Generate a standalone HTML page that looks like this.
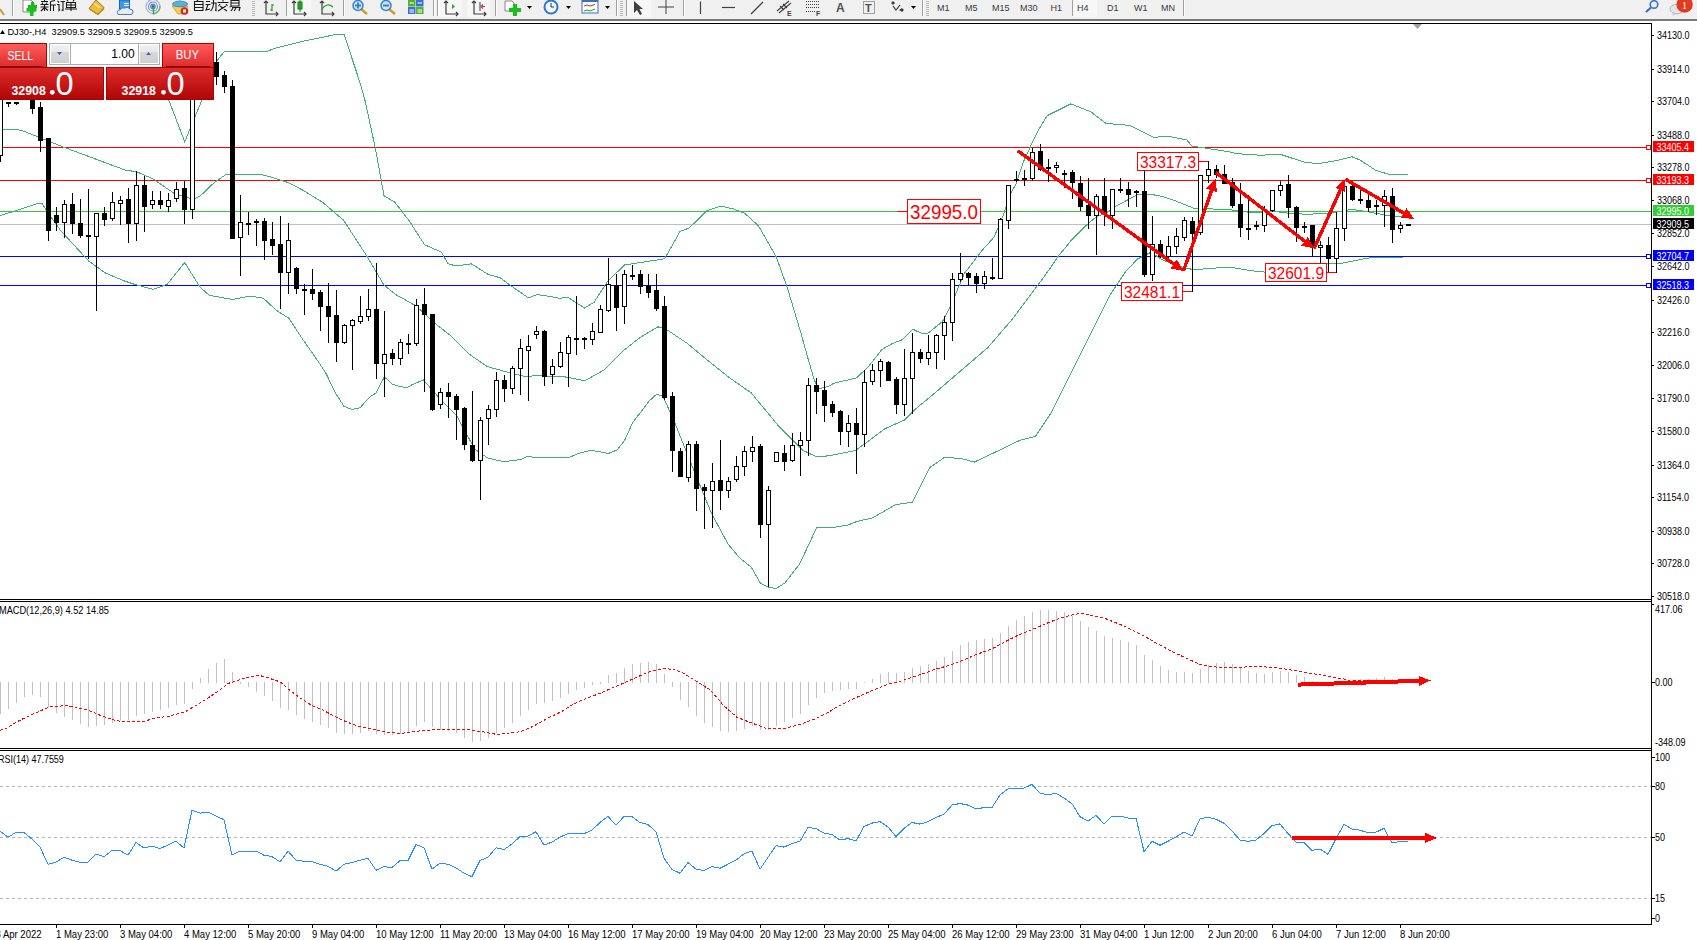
<!DOCTYPE html>
<html><head><meta charset="utf-8"><title>DJ30 H4</title>
<style>
html,body{margin:0;padding:0;background:#fff;}
body{width:1697px;height:940px;overflow:hidden;position:relative;font-family:"Liberation Sans", sans-serif;}
</style></head><body>
<svg width="1697" height="940" style="position:absolute;left:0;top:0"><defs><clipPath id="cm"><rect x="0" y="24" width="1651" height="575"/></clipPath><clipPath id="cmacd"><rect x="0" y="602" width="1651" height="146"/></clipPath><clipPath id="crsi"><rect x="0" y="751" width="1651" height="173"/></clipPath></defs><g shape-rendering="crispEdges" fill="#000"><rect x="0" y="23" width="1652" height="1"/><rect x="1651" y="23" width="1" height="902"/><rect x="0" y="599" width="1652" height="1"/><rect x="0" y="601" width="1652" height="1"/><rect x="0" y="748" width="1652" height="1"/><rect x="0" y="750" width="1652" height="1"/><rect x="0" y="924" width="1652" height="1"/></g><g clip-path="url(#cm)"><g shape-rendering="crispEdges"><rect x="0" y="147" width="1651" height="1" fill="#ff0000"/><rect x="0" y="180" width="1651" height="1" fill="#ff0000"/><rect x="0" y="211" width="1651" height="1" fill="#32cd32"/><rect x="0" y="224" width="1651" height="1" fill="#c0c0c0"/><rect x="0" y="256" width="1651" height="1" fill="#0000ff"/><rect x="0" y="285" width="1651" height="1" fill="#0000ff"/><rect x="1646" y="145" width="5" height="5" fill="#ff0000"/><rect x="1647" y="146" width="3" height="3" fill="#fff"/><rect x="1646" y="178" width="5" height="5" fill="#ff0000"/><rect x="1647" y="179" width="3" height="3" fill="#fff"/><rect x="1646" y="254" width="5" height="5" fill="#0000ff"/><rect x="1647" y="255" width="3" height="3" fill="#fff"/><rect x="1646" y="283" width="5" height="5" fill="#0000ff"/><rect x="1647" y="284" width="3" height="3" fill="#fff"/></g><polyline points="0.0,50.0 150.0,58.0 169.5,102.0 184.7,141.8 201.1,102.0 214.0,70.0 216.4,61.4 224.4,51.4 267.3,51.4 273.6,48.6 303.4,41.2 337.3,34.2 344.0,34.2 360.0,82.6 364.9,100.0 375.5,148.9 384.0,195.7 394.7,202.1 409.6,221.3 424.5,244.7 441.5,252.1 447.9,263.8 456.4,266.0 471.3,263.8 488.3,274.5 500.0,277.7 510.3,285.3 519.5,291.7 528.7,298.0 536.7,294.6 550.1,296.5 559.7,298.4 567.4,297.1 584.6,308.0 594.2,302.2 607.6,281.2 624.8,264.9 640.0,262.6 664.6,258.8 680.2,231.3 689.2,228.0 707.0,210.6 720.4,206.1 733.9,209.0 745.0,213.5 758.4,225.8 776.3,257.0 787.5,288.3 800.9,333.0 808.7,360.9 814.3,380.0 818.8,388.9 827.7,386.6 834.0,383.2 856.3,378.0 868.3,366.8 881.7,349.7 892.1,343.7 902.8,339.5 912.8,329.2 920.9,333.1 928.1,333.1 942.6,321.4 949.8,307.8 964.3,273.5 982.4,250.0 994.0,237.2 1002.9,216.3 1010.3,194.0 1015.7,184.5 1023.7,161.3 1031.2,144.9 1038.6,130.0 1047.2,115.6 1070.9,103.8 1090.6,111.7 1106.3,123.5 1129.9,125.4 1153.5,137.2 1169.3,136.5 1186.8,140.0 1191.9,146.0 1230.0,151.9 1236.0,153.6 1259.9,155.2 1280.6,154.4 1304.6,162.3 1318.9,163.6 1336.0,160.7 1351.9,156.8 1359.9,159.9 1375.8,170.3 1388.6,174.3 1407.8,174.3" fill="none" stroke="#3cb371" stroke-width="1" shape-rendering="crispEdges"/><polyline points="0.0,129.0 21.1,130.1 38.7,137.2 60.9,146.1 125.0,170.0 136.7,171.8 153.1,178.9 174.2,193.4 192.9,199.2 200.0,196.2 214.0,182.8 225.7,174.6 232.8,175.1 255.0,174.2 260.6,174.5 273.4,177.7 288.3,182.6 303.2,190.4 322.3,202.1 343.6,220.2 367.0,256.4 384.0,285.1 395.3,294.3 415.8,305.8 433.7,322.4 451.5,336.4 469.4,354.3 487.3,366.6 507.7,372.2 527.2,377.0 536.7,375.0 548.2,376.4 565.5,377.0 584.6,380.8 603.8,370.2 622.9,351.1 640.0,337.5 657.9,326.8 666.8,329.7 686.9,343.1 707.0,359.8 729.4,377.7 751.2,392.9 767.6,412.7 778.9,426.4 793.8,441.3 802.7,450.2 816.8,457.0 829.6,455.7 855.1,450.6 868.3,441.3 884.9,428.7 904.7,419.9 915.5,409.0 937.2,391.0 962.5,369.3 987.8,347.6 1012.0,319.6 1039.4,282.9 1049.0,270.0 1058.0,256.5 1071.4,240.2 1086.3,225.3 1096.7,216.4 1105.6,213.4 1115.3,206.4 1137.4,194.8 1149.3,194.1 1161.3,196.2 1176.6,201.3 1193.6,208.1 1230.0,209.8 1251.9,212.6 1275.8,211.5 1291.8,213.7 1307.8,214.2 1328.0,213.4 1351.9,209.4 1367.9,211.8 1391.8,216.3 1404.6,216.6" fill="none" stroke="#3cb371" stroke-width="1" shape-rendering="crispEdges"/><polyline points="0.0,215.6 21.1,209.1 38.7,203.2 42.2,203.9 49.2,214.5 60.9,230.9 89.0,261.3 105.4,273.0 125.0,281.2 134.4,284.3 153.1,289.4 167.2,284.3 184.7,262.5 200.0,287.1 209.3,295.3 232.8,299.5 250.0,296.0 263.4,298.3 276.8,310.6 289.0,318.4 301.4,337.4 320.0,364.1 326.0,373.4 334.9,392.0 343.8,406.2 352.0,409.5 360.2,407.7 364.7,402.4 370.6,396.5 375.8,393.1 384.4,376.8 392.2,384.2 399.7,386.4 407.1,387.6 412.3,384.6 423.4,379.9 441.3,400.3 456.6,415.6 474.5,448.8 487.3,457.8 500.0,460.9 506.4,461.4 514.9,460.3 521.3,459.3 527.7,456.4 533.0,457.1 569.1,457.4 578.7,453.4 590.4,450.4 596.8,451.3 608.5,453.4 617.0,450.0 624.5,440.6 633.0,422.0 642.6,409.8 648.9,401.3 656.4,394.4 662.8,396.0 669.1,409.8 676.4,426.8 695.1,473.6 711.5,513.3 727.8,543.7 739.5,557.8 751.2,567.1 760.6,583.5 769.9,587.7 776.4,588.3 784.9,583.0 799.8,563.8 816.8,527.2 831.7,527.7 847.7,525.1 857.2,521.3 872.1,518.1 895.5,504.7 912.6,502.1 929.6,467.7 944.5,457.4 961.5,458.5 974.3,462.1 999.8,450.0 1019.7,440.4 1035.4,436.5 1051.2,412.8 1063.0,389.2 1078.7,357.7 1094.5,326.2 1110.2,294.7 1126.0,271.1 1137.4,259.1 1151.0,252.3 1161.3,259.1 1176.6,265.9 1193.6,269.7 1220.0,267.7 1232.8,267.7 1251.9,270.8 1267.9,272.4 1291.8,270.0 1315.7,263.7 1340.0,263.7 1351.9,261.3 1367.9,258.1 1380.6,257.3 1388.6,257.8 1403.0,257.3" fill="none" stroke="#3cb371" stroke-width="1" shape-rendering="crispEdges"/><g shape-rendering="crispEdges"><rect x="0" y="90" width="1" height="72" fill="#000"/><rect x="-2" y="95" width="5" height="61" fill="#000"/><rect x="-1" y="96" width="3" height="59" fill="#fff"/><rect x="8" y="102" width="1" height="5" fill="#000"/><rect x="6" y="102" width="5" height="2" fill="#000"/><rect x="16" y="102" width="1" height="3" fill="#000"/><rect x="14" y="102" width="5" height="2" fill="#000"/><rect x="24" y="88" width="1" height="11" fill="#000"/><rect x="22" y="90" width="5" height="7" fill="#000"/><rect x="32" y="92" width="1" height="22" fill="#000"/><rect x="30" y="95" width="5" height="14" fill="#000"/><rect x="40" y="102" width="1" height="50" fill="#000"/><rect x="38" y="107" width="5" height="34" fill="#000"/><rect x="48" y="138" width="1" height="103" fill="#000"/><rect x="46" y="138" width="5" height="93" fill="#000"/><rect x="56" y="207" width="1" height="24" fill="#000"/><rect x="54" y="215" width="5" height="8" fill="#000"/><rect x="64" y="200" width="1" height="38" fill="#000"/><rect x="62" y="204" width="5" height="19" fill="#000"/><rect x="63" y="205" width="3" height="17" fill="#fff"/><rect x="72" y="193" width="1" height="41" fill="#000"/><rect x="70" y="204" width="5" height="20" fill="#000"/><rect x="80" y="199" width="1" height="39" fill="#000"/><rect x="78" y="223" width="5" height="13" fill="#000"/><rect x="88" y="189" width="1" height="70" fill="#000"/><rect x="86" y="235" width="5" height="2" fill="#000"/><rect x="96" y="213" width="1" height="98" fill="#000"/><rect x="94" y="213" width="5" height="24" fill="#000"/><rect x="95" y="214" width="3" height="22" fill="#fff"/><rect x="104" y="207" width="1" height="19" fill="#000"/><rect x="102" y="213" width="5" height="7" fill="#000"/><rect x="112" y="192" width="1" height="29" fill="#000"/><rect x="110" y="202" width="5" height="17" fill="#000"/><rect x="111" y="203" width="3" height="15" fill="#fff"/><rect x="120" y="196" width="1" height="29" fill="#000"/><rect x="118" y="200" width="5" height="4" fill="#000"/><rect x="119" y="201" width="3" height="2" fill="#fff"/><rect x="128" y="188" width="1" height="55" fill="#000"/><rect x="126" y="199" width="5" height="25" fill="#000"/><rect x="136" y="171" width="1" height="70" fill="#000"/><rect x="134" y="185" width="5" height="39" fill="#000"/><rect x="135" y="186" width="3" height="37" fill="#fff"/><rect x="144" y="176" width="1" height="56" fill="#000"/><rect x="142" y="185" width="5" height="22" fill="#000"/><rect x="152" y="191" width="1" height="18" fill="#000"/><rect x="150" y="200" width="5" height="5" fill="#000"/><rect x="151" y="201" width="3" height="3" fill="#fff"/><rect x="160" y="191" width="1" height="18" fill="#000"/><rect x="158" y="200" width="5" height="5" fill="#000"/><rect x="168" y="193" width="1" height="19" fill="#000"/><rect x="166" y="200" width="5" height="7" fill="#000"/><rect x="167" y="201" width="3" height="5" fill="#fff"/><rect x="176" y="182" width="1" height="20" fill="#000"/><rect x="174" y="189" width="5" height="10" fill="#000"/><rect x="175" y="190" width="3" height="8" fill="#fff"/><rect x="184" y="181" width="1" height="43" fill="#000"/><rect x="182" y="188" width="5" height="22" fill="#000"/><rect x="192" y="55" width="1" height="164" fill="#000"/><rect x="190" y="60" width="5" height="150" fill="#000"/><rect x="191" y="61" width="3" height="148" fill="#fff"/><rect x="200" y="55" width="1" height="26" fill="#000"/><rect x="198" y="60" width="5" height="16" fill="#000"/><rect x="208" y="50" width="1" height="26" fill="#000"/><rect x="206" y="55" width="5" height="16" fill="#000"/><rect x="207" y="56" width="3" height="14" fill="#fff"/><rect x="216" y="52" width="1" height="33" fill="#000"/><rect x="214" y="62" width="5" height="15" fill="#000"/><rect x="224" y="71" width="1" height="22" fill="#000"/><rect x="222" y="75" width="5" height="12" fill="#000"/><rect x="232" y="80" width="1" height="159" fill="#000"/><rect x="230" y="86" width="5" height="153" fill="#000"/><rect x="240" y="195" width="1" height="81" fill="#000"/><rect x="238" y="222" width="5" height="16" fill="#000"/><rect x="239" y="223" width="3" height="14" fill="#fff"/><rect x="248" y="212" width="1" height="23" fill="#000"/><rect x="246" y="223" width="5" height="2" fill="#000"/><rect x="256" y="219" width="1" height="27" fill="#000"/><rect x="254" y="221" width="5" height="2" fill="#000"/><rect x="264" y="218" width="1" height="42" fill="#000"/><rect x="262" y="221" width="5" height="20" fill="#000"/><rect x="272" y="222" width="1" height="33" fill="#000"/><rect x="270" y="239" width="5" height="7" fill="#000"/><rect x="280" y="216" width="1" height="93" fill="#000"/><rect x="278" y="244" width="5" height="29" fill="#000"/><rect x="288" y="223" width="1" height="71" fill="#000"/><rect x="286" y="240" width="5" height="33" fill="#000"/><rect x="287" y="241" width="3" height="31" fill="#fff"/><rect x="296" y="267" width="1" height="27" fill="#000"/><rect x="294" y="268" width="5" height="21" fill="#000"/><rect x="304" y="284" width="1" height="31" fill="#000"/><rect x="302" y="289" width="5" height="2" fill="#000"/><rect x="312" y="269" width="1" height="31" fill="#000"/><rect x="310" y="289" width="5" height="5" fill="#000"/><rect x="320" y="290" width="1" height="41" fill="#000"/><rect x="318" y="292" width="5" height="15" fill="#000"/><rect x="328" y="283" width="1" height="60" fill="#000"/><rect x="326" y="306" width="5" height="11" fill="#000"/><rect x="336" y="290" width="1" height="72" fill="#000"/><rect x="334" y="315" width="5" height="28" fill="#000"/><rect x="344" y="324" width="1" height="20" fill="#000"/><rect x="342" y="325" width="5" height="18" fill="#000"/><rect x="343" y="326" width="3" height="16" fill="#fff"/><rect x="352" y="319" width="1" height="51" fill="#000"/><rect x="350" y="320" width="5" height="6" fill="#000"/><rect x="351" y="321" width="3" height="4" fill="#fff"/><rect x="360" y="296" width="1" height="28" fill="#000"/><rect x="358" y="316" width="5" height="6" fill="#000"/><rect x="359" y="317" width="3" height="4" fill="#fff"/><rect x="368" y="289" width="1" height="32" fill="#000"/><rect x="366" y="309" width="5" height="8" fill="#000"/><rect x="367" y="310" width="3" height="6" fill="#fff"/><rect x="376" y="263" width="1" height="116" fill="#000"/><rect x="374" y="309" width="5" height="55" fill="#000"/><rect x="384" y="311" width="1" height="86" fill="#000"/><rect x="382" y="354" width="5" height="10" fill="#000"/><rect x="383" y="355" width="3" height="8" fill="#fff"/><rect x="392" y="349" width="1" height="16" fill="#000"/><rect x="390" y="353" width="5" height="6" fill="#000"/><rect x="400" y="339" width="1" height="26" fill="#000"/><rect x="398" y="342" width="5" height="17" fill="#000"/><rect x="399" y="343" width="3" height="15" fill="#fff"/><rect x="408" y="334" width="1" height="20" fill="#000"/><rect x="406" y="343" width="5" height="2" fill="#000"/><rect x="416" y="299" width="1" height="47" fill="#000"/><rect x="414" y="305" width="5" height="39" fill="#000"/><rect x="415" y="306" width="3" height="37" fill="#fff"/><rect x="424" y="288" width="1" height="104" fill="#000"/><rect x="422" y="304" width="5" height="11" fill="#000"/><rect x="432" y="314" width="1" height="97" fill="#000"/><rect x="430" y="314" width="5" height="96" fill="#000"/><rect x="440" y="388" width="1" height="21" fill="#000"/><rect x="438" y="392" width="5" height="13" fill="#000"/><rect x="439" y="393" width="3" height="11" fill="#fff"/><rect x="448" y="383" width="1" height="35" fill="#000"/><rect x="446" y="392" width="5" height="5" fill="#000"/><rect x="456" y="394" width="1" height="46" fill="#000"/><rect x="454" y="396" width="5" height="14" fill="#000"/><rect x="464" y="407" width="1" height="43" fill="#000"/><rect x="462" y="408" width="5" height="37" fill="#000"/><rect x="472" y="391" width="1" height="71" fill="#000"/><rect x="470" y="445" width="5" height="16" fill="#000"/><rect x="480" y="417" width="1" height="83" fill="#000"/><rect x="478" y="420" width="5" height="41" fill="#000"/><rect x="479" y="421" width="3" height="39" fill="#fff"/><rect x="488" y="405" width="1" height="40" fill="#000"/><rect x="486" y="409" width="5" height="10" fill="#000"/><rect x="487" y="410" width="3" height="8" fill="#fff"/><rect x="496" y="372" width="1" height="45" fill="#000"/><rect x="494" y="380" width="5" height="30" fill="#000"/><rect x="495" y="381" width="3" height="28" fill="#fff"/><rect x="504" y="375" width="1" height="27" fill="#000"/><rect x="502" y="380" width="5" height="9" fill="#000"/><rect x="512" y="366" width="1" height="28" fill="#000"/><rect x="510" y="368" width="5" height="21" fill="#000"/><rect x="511" y="369" width="3" height="19" fill="#fff"/><rect x="520" y="339" width="1" height="56" fill="#000"/><rect x="518" y="348" width="5" height="21" fill="#000"/><rect x="519" y="349" width="3" height="19" fill="#fff"/><rect x="528" y="335" width="1" height="66" fill="#000"/><rect x="526" y="346" width="5" height="5" fill="#000"/><rect x="527" y="347" width="3" height="3" fill="#fff"/><rect x="536" y="326" width="1" height="13" fill="#000"/><rect x="534" y="331" width="5" height="4" fill="#000"/><rect x="535" y="332" width="3" height="2" fill="#fff"/><rect x="544" y="330" width="1" height="56" fill="#000"/><rect x="542" y="331" width="5" height="46" fill="#000"/><rect x="552" y="359" width="1" height="25" fill="#000"/><rect x="550" y="366" width="5" height="9" fill="#000"/><rect x="551" y="367" width="3" height="7" fill="#fff"/><rect x="560" y="342" width="1" height="26" fill="#000"/><rect x="558" y="352" width="5" height="15" fill="#000"/><rect x="559" y="353" width="3" height="13" fill="#fff"/><rect x="568" y="335" width="1" height="52" fill="#000"/><rect x="566" y="337" width="5" height="17" fill="#000"/><rect x="567" y="338" width="3" height="15" fill="#fff"/><rect x="576" y="296" width="1" height="59" fill="#000"/><rect x="574" y="338" width="5" height="2" fill="#000"/><rect x="584" y="337" width="1" height="12" fill="#000"/><rect x="582" y="338" width="5" height="2" fill="#000"/><rect x="592" y="323" width="1" height="22" fill="#000"/><rect x="590" y="331" width="5" height="9" fill="#000"/><rect x="591" y="332" width="3" height="7" fill="#fff"/><rect x="600" y="305" width="1" height="28" fill="#000"/><rect x="598" y="309" width="5" height="24" fill="#000"/><rect x="599" y="310" width="3" height="22" fill="#fff"/><rect x="608" y="258" width="1" height="54" fill="#000"/><rect x="606" y="284" width="5" height="27" fill="#000"/><rect x="607" y="285" width="3" height="25" fill="#fff"/><rect x="616" y="274" width="1" height="57" fill="#000"/><rect x="614" y="285" width="5" height="23" fill="#000"/><rect x="624" y="270" width="1" height="54" fill="#000"/><rect x="622" y="274" width="5" height="33" fill="#000"/><rect x="623" y="275" width="3" height="31" fill="#fff"/><rect x="632" y="265" width="1" height="15" fill="#000"/><rect x="630" y="275" width="5" height="2" fill="#000"/><rect x="640" y="270" width="1" height="24" fill="#000"/><rect x="638" y="274" width="5" height="13" fill="#000"/><rect x="648" y="274" width="1" height="24" fill="#000"/><rect x="646" y="286" width="5" height="7" fill="#000"/><rect x="656" y="274" width="1" height="37" fill="#000"/><rect x="654" y="290" width="5" height="19" fill="#000"/><rect x="664" y="296" width="1" height="104" fill="#000"/><rect x="662" y="306" width="5" height="92" fill="#000"/><rect x="672" y="392" width="1" height="80" fill="#000"/><rect x="670" y="396" width="5" height="55" fill="#000"/><rect x="680" y="448" width="1" height="29" fill="#000"/><rect x="678" y="451" width="5" height="26" fill="#000"/><rect x="688" y="441" width="1" height="41" fill="#000"/><rect x="686" y="444" width="5" height="34" fill="#000"/><rect x="687" y="445" width="3" height="32" fill="#fff"/><rect x="696" y="441" width="1" height="70" fill="#000"/><rect x="694" y="444" width="5" height="45" fill="#000"/><rect x="704" y="484" width="1" height="45" fill="#000"/><rect x="702" y="487" width="5" height="4" fill="#000"/><rect x="712" y="463" width="1" height="65" fill="#000"/><rect x="710" y="481" width="5" height="10" fill="#000"/><rect x="711" y="482" width="3" height="8" fill="#fff"/><rect x="720" y="440" width="1" height="70" fill="#000"/><rect x="718" y="480" width="5" height="11" fill="#000"/><rect x="728" y="477" width="1" height="21" fill="#000"/><rect x="726" y="481" width="5" height="10" fill="#000"/><rect x="727" y="482" width="3" height="8" fill="#fff"/><rect x="736" y="456" width="1" height="26" fill="#000"/><rect x="734" y="466" width="5" height="14" fill="#000"/><rect x="735" y="467" width="3" height="12" fill="#fff"/><rect x="744" y="446" width="1" height="30" fill="#000"/><rect x="742" y="451" width="5" height="16" fill="#000"/><rect x="743" y="452" width="3" height="14" fill="#fff"/><rect x="752" y="436" width="1" height="26" fill="#000"/><rect x="750" y="447" width="5" height="5" fill="#000"/><rect x="751" y="448" width="3" height="3" fill="#fff"/><rect x="760" y="444" width="1" height="94" fill="#000"/><rect x="758" y="446" width="5" height="79" fill="#000"/><rect x="768" y="486" width="1" height="101" fill="#000"/><rect x="766" y="490" width="5" height="35" fill="#000"/><rect x="767" y="491" width="3" height="33" fill="#fff"/><rect x="776" y="452" width="1" height="10" fill="#000"/><rect x="774" y="452" width="5" height="10" fill="#000"/><rect x="775" y="453" width="3" height="8" fill="#fff"/><rect x="784" y="445" width="1" height="26" fill="#000"/><rect x="782" y="453" width="5" height="9" fill="#000"/><rect x="792" y="433" width="1" height="29" fill="#000"/><rect x="790" y="445" width="5" height="16" fill="#000"/><rect x="791" y="446" width="3" height="14" fill="#fff"/><rect x="800" y="432" width="1" height="44" fill="#000"/><rect x="798" y="440" width="5" height="6" fill="#000"/><rect x="799" y="441" width="3" height="4" fill="#fff"/><rect x="808" y="378" width="1" height="78" fill="#000"/><rect x="806" y="385" width="5" height="56" fill="#000"/><rect x="807" y="386" width="3" height="54" fill="#fff"/><rect x="816" y="378" width="1" height="36" fill="#000"/><rect x="814" y="385" width="5" height="7" fill="#000"/><rect x="824" y="381" width="1" height="41" fill="#000"/><rect x="822" y="390" width="5" height="16" fill="#000"/><rect x="832" y="401" width="1" height="16" fill="#000"/><rect x="830" y="404" width="5" height="9" fill="#000"/><rect x="840" y="410" width="1" height="35" fill="#000"/><rect x="838" y="411" width="5" height="21" fill="#000"/><rect x="848" y="415" width="1" height="32" fill="#000"/><rect x="846" y="423" width="5" height="9" fill="#000"/><rect x="847" y="424" width="3" height="7" fill="#fff"/><rect x="856" y="408" width="1" height="66" fill="#000"/><rect x="854" y="423" width="5" height="12" fill="#000"/><rect x="864" y="370" width="1" height="77" fill="#000"/><rect x="862" y="382" width="5" height="53" fill="#000"/><rect x="863" y="383" width="3" height="51" fill="#fff"/><rect x="872" y="364" width="1" height="21" fill="#000"/><rect x="870" y="370" width="5" height="12" fill="#000"/><rect x="871" y="371" width="3" height="10" fill="#fff"/><rect x="880" y="359" width="1" height="28" fill="#000"/><rect x="878" y="361" width="5" height="10" fill="#000"/><rect x="879" y="362" width="3" height="8" fill="#fff"/><rect x="888" y="361" width="1" height="20" fill="#000"/><rect x="886" y="362" width="5" height="19" fill="#000"/><rect x="896" y="377" width="1" height="37" fill="#000"/><rect x="894" y="379" width="5" height="26" fill="#000"/><rect x="904" y="349" width="1" height="67" fill="#000"/><rect x="902" y="378" width="5" height="27" fill="#000"/><rect x="903" y="379" width="3" height="25" fill="#fff"/><rect x="912" y="333" width="1" height="81" fill="#000"/><rect x="910" y="352" width="5" height="27" fill="#000"/><rect x="911" y="353" width="3" height="25" fill="#fff"/><rect x="920" y="349" width="1" height="14" fill="#000"/><rect x="918" y="352" width="5" height="7" fill="#000"/><rect x="928" y="335" width="1" height="30" fill="#000"/><rect x="926" y="352" width="5" height="7" fill="#000"/><rect x="927" y="353" width="3" height="5" fill="#fff"/><rect x="936" y="334" width="1" height="35" fill="#000"/><rect x="934" y="335" width="5" height="18" fill="#000"/><rect x="935" y="336" width="3" height="16" fill="#fff"/><rect x="944" y="316" width="1" height="44" fill="#000"/><rect x="942" y="322" width="5" height="14" fill="#000"/><rect x="943" y="323" width="3" height="12" fill="#fff"/><rect x="952" y="273" width="1" height="68" fill="#000"/><rect x="950" y="279" width="5" height="44" fill="#000"/><rect x="951" y="280" width="3" height="42" fill="#fff"/><rect x="960" y="253" width="1" height="29" fill="#000"/><rect x="958" y="273" width="5" height="7" fill="#000"/><rect x="959" y="274" width="3" height="5" fill="#fff"/><rect x="968" y="272" width="1" height="14" fill="#000"/><rect x="966" y="273" width="5" height="5" fill="#000"/><rect x="976" y="273" width="1" height="20" fill="#000"/><rect x="974" y="276" width="5" height="8" fill="#000"/><rect x="984" y="271" width="1" height="18" fill="#000"/><rect x="982" y="276" width="5" height="8" fill="#000"/><rect x="983" y="277" width="3" height="6" fill="#fff"/><rect x="992" y="258" width="1" height="22" fill="#000"/><rect x="990" y="277" width="5" height="2" fill="#000"/><rect x="1000" y="218" width="1" height="61" fill="#000"/><rect x="998" y="219" width="5" height="60" fill="#000"/><rect x="999" y="220" width="3" height="58" fill="#fff"/><rect x="1008" y="185" width="1" height="44" fill="#000"/><rect x="1006" y="185" width="5" height="36" fill="#000"/><rect x="1007" y="186" width="3" height="34" fill="#fff"/><rect x="1016" y="171" width="1" height="11" fill="#000"/><rect x="1014" y="179" width="5" height="2" fill="#000"/><rect x="1024" y="170" width="1" height="16" fill="#000"/><rect x="1022" y="178" width="5" height="2" fill="#000"/><rect x="1032" y="148" width="1" height="33" fill="#000"/><rect x="1030" y="152" width="5" height="27" fill="#000"/><rect x="1031" y="153" width="3" height="25" fill="#fff"/><rect x="1040" y="144" width="1" height="27" fill="#000"/><rect x="1038" y="151" width="5" height="19" fill="#000"/><rect x="1048" y="159" width="1" height="23" fill="#000"/><rect x="1046" y="167" width="5" height="2" fill="#000"/><rect x="1056" y="162" width="1" height="11" fill="#000"/><rect x="1054" y="165" width="5" height="3" fill="#000"/><rect x="1055" y="166" width="3" height="1" fill="#fff"/><rect x="1064" y="170" width="1" height="18" fill="#000"/><rect x="1062" y="173" width="5" height="2" fill="#000"/><rect x="1072" y="170" width="1" height="29" fill="#000"/><rect x="1070" y="172" width="5" height="11" fill="#000"/><rect x="1080" y="176" width="1" height="35" fill="#000"/><rect x="1078" y="183" width="5" height="24" fill="#000"/><rect x="1088" y="178" width="1" height="51" fill="#000"/><rect x="1086" y="205" width="5" height="11" fill="#000"/><rect x="1096" y="194" width="1" height="61" fill="#000"/><rect x="1094" y="196" width="5" height="20" fill="#000"/><rect x="1095" y="197" width="3" height="18" fill="#fff"/><rect x="1104" y="178" width="1" height="48" fill="#000"/><rect x="1102" y="196" width="5" height="18" fill="#000"/><rect x="1112" y="189" width="1" height="40" fill="#000"/><rect x="1110" y="189" width="5" height="27" fill="#000"/><rect x="1111" y="190" width="3" height="25" fill="#fff"/><rect x="1120" y="178" width="1" height="15" fill="#000"/><rect x="1118" y="189" width="5" height="2" fill="#000"/><rect x="1128" y="182" width="1" height="25" fill="#000"/><rect x="1126" y="189" width="5" height="6" fill="#000"/><rect x="1136" y="190" width="1" height="17" fill="#000"/><rect x="1134" y="191" width="5" height="2" fill="#000"/><rect x="1144" y="171" width="1" height="106" fill="#000"/><rect x="1142" y="191" width="5" height="84" fill="#000"/><rect x="1152" y="216" width="1" height="65" fill="#000"/><rect x="1150" y="244" width="5" height="31" fill="#000"/><rect x="1151" y="245" width="3" height="29" fill="#fff"/><rect x="1160" y="240" width="1" height="18" fill="#000"/><rect x="1158" y="244" width="5" height="13" fill="#000"/><rect x="1168" y="236" width="1" height="22" fill="#000"/><rect x="1166" y="246" width="5" height="11" fill="#000"/><rect x="1167" y="247" width="3" height="9" fill="#fff"/><rect x="1176" y="228" width="1" height="26" fill="#000"/><rect x="1174" y="236" width="5" height="11" fill="#000"/><rect x="1175" y="237" width="3" height="9" fill="#fff"/><rect x="1184" y="217" width="1" height="24" fill="#000"/><rect x="1182" y="220" width="5" height="18" fill="#000"/><rect x="1183" y="221" width="3" height="16" fill="#fff"/><rect x="1192" y="217" width="1" height="75" fill="#000"/><rect x="1190" y="221" width="5" height="13" fill="#000"/><rect x="1200" y="175" width="1" height="60" fill="#000"/><rect x="1198" y="175" width="5" height="58" fill="#000"/><rect x="1199" y="176" width="3" height="56" fill="#fff"/><rect x="1208" y="161" width="1" height="22" fill="#000"/><rect x="1206" y="169" width="5" height="7" fill="#000"/><rect x="1207" y="170" width="3" height="5" fill="#fff"/><rect x="1216" y="165" width="1" height="13" fill="#000"/><rect x="1214" y="169" width="5" height="6" fill="#000"/><rect x="1224" y="165" width="1" height="19" fill="#000"/><rect x="1222" y="174" width="5" height="10" fill="#000"/><rect x="1232" y="178" width="1" height="30" fill="#000"/><rect x="1230" y="182" width="5" height="24" fill="#000"/><rect x="1240" y="183" width="1" height="54" fill="#000"/><rect x="1238" y="204" width="5" height="24" fill="#000"/><rect x="1248" y="195" width="1" height="45" fill="#000"/><rect x="1246" y="228" width="5" height="2" fill="#000"/><rect x="1256" y="221" width="1" height="9" fill="#000"/><rect x="1254" y="225" width="5" height="2" fill="#000"/><rect x="1264" y="206" width="1" height="26" fill="#000"/><rect x="1262" y="209" width="5" height="17" fill="#000"/><rect x="1263" y="210" width="3" height="15" fill="#fff"/><rect x="1272" y="190" width="1" height="22" fill="#000"/><rect x="1270" y="190" width="5" height="21" fill="#000"/><rect x="1271" y="191" width="3" height="19" fill="#fff"/><rect x="1280" y="181" width="1" height="15" fill="#000"/><rect x="1278" y="185" width="5" height="6" fill="#000"/><rect x="1279" y="186" width="3" height="4" fill="#fff"/><rect x="1288" y="175" width="1" height="43" fill="#000"/><rect x="1286" y="184" width="5" height="24" fill="#000"/><rect x="1296" y="206" width="1" height="36" fill="#000"/><rect x="1294" y="207" width="5" height="21" fill="#000"/><rect x="1304" y="222" width="1" height="11" fill="#000"/><rect x="1302" y="226" width="5" height="2" fill="#000"/><rect x="1312" y="225" width="1" height="32" fill="#000"/><rect x="1310" y="225" width="5" height="22" fill="#000"/><rect x="1320" y="241" width="1" height="23" fill="#000"/><rect x="1318" y="245" width="5" height="3" fill="#000"/><rect x="1319" y="246" width="3" height="1" fill="#fff"/><rect x="1328" y="237" width="1" height="35" fill="#000"/><rect x="1326" y="245" width="5" height="14" fill="#000"/><rect x="1336" y="212" width="1" height="61" fill="#000"/><rect x="1334" y="228" width="5" height="31" fill="#000"/><rect x="1335" y="229" width="3" height="29" fill="#fff"/><rect x="1344" y="180" width="1" height="61" fill="#000"/><rect x="1342" y="186" width="5" height="43" fill="#000"/><rect x="1343" y="187" width="3" height="41" fill="#fff"/><rect x="1352" y="185" width="1" height="16" fill="#000"/><rect x="1350" y="186" width="5" height="14" fill="#000"/><rect x="1360" y="186" width="1" height="18" fill="#000"/><rect x="1358" y="199" width="5" height="2" fill="#000"/><rect x="1368" y="195" width="1" height="17" fill="#000"/><rect x="1366" y="200" width="5" height="8" fill="#000"/><rect x="1376" y="200" width="1" height="15" fill="#000"/><rect x="1374" y="205" width="5" height="2" fill="#000"/><rect x="1384" y="190" width="1" height="37" fill="#000"/><rect x="1382" y="196" width="5" height="10" fill="#000"/><rect x="1383" y="197" width="3" height="8" fill="#fff"/><rect x="1392" y="188" width="1" height="55" fill="#000"/><rect x="1390" y="196" width="5" height="34" fill="#000"/><rect x="1400" y="222" width="1" height="11" fill="#000"/><rect x="1398" y="225" width="5" height="4" fill="#000"/><rect x="1399" y="226" width="3" height="2" fill="#fff"/><rect x="1406" y="224" width="5" height="2" fill="#000"/></g><polygon points="1413,24 1422,24 1417.5,29" fill="#a0a0a0"/><rect x="897" y="211" width="10" height="1" fill="#ff0000" shape-rendering="crispEdges"/><rect x="907.5" y="199.5" width="73" height="24" fill="#fff" stroke="#ff0000" stroke-width="1"/><text x="944.0" y="219.06" font-family='"Liberation Sans", sans-serif' font-size="21" fill="#ff0000" text-anchor="middle" textLength="68" lengthAdjust="spacingAndGlyphs">32995.0</text><rect x="1199" y="161" width="9" height="1" fill="#ff0000" shape-rendering="crispEdges"/><rect x="1137.5" y="152.5" width="61" height="18" fill="#fff" stroke="#ff0000" stroke-width="1"/><text x="1168.0" y="167.62" font-family='"Liberation Sans", sans-serif' font-size="17" fill="#ff0000" text-anchor="middle" textLength="56" lengthAdjust="spacingAndGlyphs">33317.3</text><rect x="1183" y="291" width="9" height="1" fill="#ff0000" shape-rendering="crispEdges"/><rect x="1121.5" y="282.5" width="61" height="18" fill="#fff" stroke="#ff0000" stroke-width="1"/><text x="1152.0" y="297.62" font-family='"Liberation Sans", sans-serif' font-size="17" fill="#ff0000" text-anchor="middle" textLength="56" lengthAdjust="spacingAndGlyphs">32481.1</text><rect x="1326" y="272" width="10" height="1" fill="#ff0000" shape-rendering="crispEdges"/><rect x="1265.5" y="263.5" width="61" height="18" fill="#fff" stroke="#ff0000" stroke-width="1"/><text x="1296.0" y="278.62" font-family='"Liberation Sans", sans-serif' font-size="17" fill="#ff0000" text-anchor="middle" textLength="56" lengthAdjust="spacingAndGlyphs">32601.9</text><line x1="1017.8" y1="150.8" x2="1175.3" y2="265.1" stroke="#ff0000" stroke-width="3.4" shape-rendering="crispEdges"/><polygon points="1183.4,271.0 1170.5,268.4 1176.9,259.5" fill="#ff0000" shape-rendering="crispEdges"/><line x1="1183.4" y1="271.0" x2="1212.4" y2="188.4" stroke="#ff0000" stroke-width="3.4" shape-rendering="crispEdges"/><polygon points="1215.7,179.0 1216.9,192.1 1206.5,188.5" fill="#ff0000" shape-rendering="crispEdges"/><line x1="1215.7" y1="172.3" x2="1306.2" y2="242.4" stroke="#ff0000" stroke-width="3.4" shape-rendering="crispEdges"/><polygon points="1314.1,248.5 1301.2,245.5 1308.0,236.8" fill="#ff0000" shape-rendering="crispEdges"/><line x1="1314.1" y1="248.5" x2="1341.1" y2="188.2" stroke="#ff0000" stroke-width="3.4" shape-rendering="crispEdges"/><polygon points="1345.2,179.1 1345.3,192.3 1335.3,187.8" fill="#ff0000" shape-rendering="crispEdges"/><line x1="1345.2" y1="179.1" x2="1405.4" y2="214.0" stroke="#ff0000" stroke-width="3.4" shape-rendering="crispEdges"/><polygon points="1414.1,219.0 1401.0,217.7 1406.5,208.2" fill="#ff0000" shape-rendering="crispEdges"/></g><polygon points="0,34 2.5,30 5,34" fill="#000"/><text x="7.4" y="35" font-family='"Liberation Sans", sans-serif' font-size="9.6" fill="#000" textLength="185.6" lengthAdjust="spacingAndGlyphs">DJ30-,H4&#160;&#160;32909.5 32909.5 32909.5 32909.5</text><g clip-path="url(#cmacd)"><g shape-rendering="crispEdges" fill="#c0c0c0"><rect x="0" y="682" width="1" height="32"/><rect x="8" y="682" width="1" height="27"/><rect x="16" y="682" width="1" height="21"/><rect x="24" y="682" width="1" height="15"/><rect x="32" y="682" width="1" height="13"/><rect x="40" y="682" width="1" height="15"/><rect x="48" y="682" width="1" height="25"/><rect x="56" y="682" width="1" height="31"/><rect x="64" y="682" width="1" height="35"/><rect x="72" y="682" width="1" height="38"/><rect x="80" y="682" width="1" height="42"/><rect x="88" y="682" width="1" height="45"/><rect x="96" y="682" width="1" height="44"/><rect x="104" y="682" width="1" height="43"/><rect x="112" y="682" width="1" height="41"/><rect x="120" y="682" width="1" height="38"/><rect x="128" y="682" width="1" height="38"/><rect x="136" y="682" width="1" height="34"/><rect x="144" y="682" width="1" height="32"/><rect x="152" y="682" width="1" height="30"/><rect x="160" y="682" width="1" height="28"/><rect x="168" y="682" width="1" height="26"/><rect x="176" y="682" width="1" height="23"/><rect x="184" y="682" width="1" height="22"/><rect x="192" y="682" width="1" height="7"/><rect x="200" y="678" width="1" height="5"/><rect x="208" y="669" width="1" height="14"/><rect x="216" y="663" width="1" height="20"/><rect x="224" y="659" width="1" height="24"/><rect x="232" y="672" width="1" height="11"/><rect x="240" y="682" width="1" height="2"/><rect x="248" y="682" width="1" height="5"/><rect x="256" y="682" width="1" height="10"/><rect x="264" y="682" width="1" height="14"/><rect x="272" y="682" width="1" height="19"/><rect x="280" y="682" width="1" height="26"/><rect x="288" y="682" width="1" height="28"/><rect x="296" y="682" width="1" height="33"/><rect x="304" y="682" width="1" height="37"/><rect x="312" y="682" width="1" height="40"/><rect x="320" y="682" width="1" height="43"/><rect x="328" y="682" width="1" height="46"/><rect x="336" y="682" width="1" height="51"/><rect x="344" y="682" width="1" height="52"/><rect x="352" y="682" width="1" height="52"/><rect x="360" y="682" width="1" height="51"/><rect x="368" y="682" width="1" height="49"/><rect x="376" y="682" width="1" height="52"/><rect x="384" y="682" width="1" height="53"/><rect x="392" y="682" width="1" height="53"/><rect x="400" y="682" width="1" height="52"/><rect x="408" y="682" width="1" height="50"/><rect x="416" y="682" width="1" height="44"/><rect x="424" y="682" width="1" height="40"/><rect x="432" y="682" width="1" height="45"/><rect x="440" y="682" width="1" height="48"/><rect x="448" y="682" width="1" height="49"/><rect x="456" y="682" width="1" height="51"/><rect x="464" y="682" width="1" height="56"/><rect x="472" y="682" width="1" height="60"/><rect x="480" y="682" width="1" height="59"/><rect x="488" y="682" width="1" height="56"/><rect x="496" y="682" width="1" height="51"/><rect x="504" y="682" width="1" height="46"/><rect x="512" y="682" width="1" height="41"/><rect x="520" y="682" width="1" height="34"/><rect x="528" y="682" width="1" height="28"/><rect x="536" y="682" width="1" height="22"/><rect x="544" y="682" width="1" height="21"/><rect x="552" y="682" width="1" height="19"/><rect x="560" y="682" width="1" height="16"/><rect x="568" y="682" width="1" height="12"/><rect x="576" y="682" width="1" height="8"/><rect x="584" y="682" width="1" height="6"/><rect x="592" y="682" width="1" height="3"/><rect x="600" y="682" width="1" height="2"/><rect x="608" y="675" width="1" height="8"/><rect x="616" y="673" width="1" height="10"/><rect x="624" y="668" width="1" height="15"/><rect x="632" y="664" width="1" height="19"/><rect x="640" y="663" width="1" height="20"/><rect x="648" y="662" width="1" height="21"/><rect x="656" y="664" width="1" height="19"/><rect x="664" y="674" width="1" height="9"/><rect x="672" y="682" width="1" height="5"/><rect x="680" y="682" width="1" height="18"/><rect x="688" y="682" width="1" height="25"/><rect x="696" y="682" width="1" height="34"/><rect x="704" y="682" width="1" height="41"/><rect x="712" y="682" width="1" height="45"/><rect x="720" y="682" width="1" height="49"/><rect x="728" y="682" width="1" height="50"/><rect x="736" y="682" width="1" height="49"/><rect x="744" y="682" width="1" height="47"/><rect x="752" y="682" width="1" height="44"/><rect x="760" y="682" width="1" height="48"/><rect x="768" y="682" width="1" height="48"/><rect x="776" y="682" width="1" height="44"/><rect x="784" y="682" width="1" height="40"/><rect x="792" y="682" width="1" height="36"/><rect x="800" y="682" width="1" height="32"/><rect x="808" y="682" width="1" height="23"/><rect x="816" y="682" width="1" height="16"/><rect x="824" y="682" width="1" height="11"/><rect x="832" y="682" width="1" height="9"/><rect x="840" y="682" width="1" height="8"/><rect x="848" y="682" width="1" height="7"/><rect x="856" y="682" width="1" height="7"/><rect x="864" y="682" width="1" height="1"/><rect x="872" y="679" width="1" height="4"/><rect x="880" y="674" width="1" height="9"/><rect x="888" y="672" width="1" height="11"/><rect x="896" y="673" width="1" height="10"/><rect x="904" y="672" width="1" height="11"/><rect x="912" y="668" width="1" height="15"/><rect x="920" y="666" width="1" height="17"/><rect x="928" y="664" width="1" height="19"/><rect x="936" y="661" width="1" height="22"/><rect x="944" y="657" width="1" height="26"/><rect x="952" y="651" width="1" height="32"/><rect x="960" y="645" width="1" height="38"/><rect x="968" y="642" width="1" height="41"/><rect x="976" y="640" width="1" height="43"/><rect x="984" y="639" width="1" height="44"/><rect x="992" y="638" width="1" height="45"/><rect x="1000" y="633" width="1" height="50"/><rect x="1008" y="626" width="1" height="57"/><rect x="1016" y="620" width="1" height="63"/><rect x="1024" y="616" width="1" height="67"/><rect x="1032" y="612" width="1" height="71"/><rect x="1040" y="610" width="1" height="73"/><rect x="1048" y="610" width="1" height="73"/><rect x="1056" y="611" width="1" height="72"/><rect x="1064" y="612" width="1" height="71"/><rect x="1072" y="616" width="1" height="67"/><rect x="1080" y="621" width="1" height="62"/><rect x="1088" y="627" width="1" height="56"/><rect x="1096" y="631" width="1" height="52"/><rect x="1104" y="636" width="1" height="47"/><rect x="1112" y="638" width="1" height="45"/><rect x="1120" y="640" width="1" height="43"/><rect x="1128" y="642" width="1" height="41"/><rect x="1136" y="645" width="1" height="38"/><rect x="1144" y="655" width="1" height="28"/><rect x="1152" y="660" width="1" height="23"/><rect x="1160" y="666" width="1" height="17"/><rect x="1168" y="670" width="1" height="13"/><rect x="1176" y="672" width="1" height="11"/><rect x="1184" y="672" width="1" height="11"/><rect x="1192" y="673" width="1" height="10"/><rect x="1200" y="669" width="1" height="14"/><rect x="1208" y="665" width="1" height="18"/><rect x="1216" y="663" width="1" height="20"/><rect x="1224" y="662" width="1" height="21"/><rect x="1232" y="664" width="1" height="19"/><rect x="1240" y="667" width="1" height="16"/><rect x="1248" y="671" width="1" height="12"/><rect x="1256" y="673" width="1" height="10"/><rect x="1264" y="674" width="1" height="9"/><rect x="1272" y="672" width="1" height="11"/><rect x="1280" y="671" width="1" height="12"/><rect x="1288" y="672" width="1" height="11"/><rect x="1296" y="675" width="1" height="8"/><rect x="1304" y="677" width="1" height="6"/><rect x="1312" y="681" width="1" height="2"/><rect x="1320" y="682" width="1" height="2"/><rect x="1328" y="682" width="1" height="5"/><rect x="1336" y="682" width="1" height="4"/><rect x="1344" y="681" width="1" height="2"/><rect x="1352" y="680" width="1" height="3"/><rect x="1360" y="679" width="1" height="4"/><rect x="1368" y="679" width="1" height="4"/><rect x="1376" y="678" width="1" height="5"/><rect x="1384" y="677" width="1" height="6"/><rect x="1392" y="679" width="1" height="4"/><rect x="1400" y="680" width="1" height="3"/><rect x="1408" y="680" width="1" height="3"/></g><polyline points="0.0,730.3 6.8,728.1 17.0,721.8 28.9,715.9 40.9,710.7 49.4,707.0 56.2,706.5 64.7,705.6 73.2,706.5 80.0,708.2 88.5,710.4 95.3,713.3 103.8,716.7 112.3,719.6 120.9,721.3 144.7,721.3 153.2,718.4 170.2,715.9 185.5,711.6 195.7,705.6 209.4,697.1 219.6,690.3 228.1,683.5 238.3,680.1 250.2,676.7 258.7,675.5 265.5,676.7 272.3,679.3 280.0,681.8 288.4,689.1 299.1,697.3 310.6,704.8 323.8,710.5 335.4,716.8 346.9,722.1 360.1,726.7 375.0,729.5 389.8,732.5 401.4,733.3 424.5,730.3 441.0,729.5 465.8,729.5 482.2,731.7 497.1,734.5 520.2,731.7 533.4,726.2 546.6,718.8 561.9,711.4 568.5,706.9 581.7,700.3 598.2,694.0 618.0,685.5 629.5,680.5 647.7,672.3 664.2,668.5 674.1,669.6 684.0,673.4 695.5,680.8 710.4,689.9 723.6,705.6 736.8,717.1 750.0,722.4 766.5,728.4 784.6,728.4 799.5,724.6 816.0,718.5 828.0,712.5 837.9,706.4 851.1,699.8 864.3,694.0 877.5,688.3 890.7,683.3 900.6,681.2 912.1,677.2 923.7,673.4 935.2,669.3 950.1,665.2 964.9,659.4 976.5,654.4 991.3,649.2 1006.2,641.2 1019.4,634.6 1032.6,629.4 1049.2,622.3 1062.3,617.3 1080.4,613.2 1092.0,615.7 1104.0,618.0 1124.0,626.0 1144.1,636.1 1158.1,644.1 1174.1,652.5 1188.2,659.1 1200.2,664.5 1216.2,667.1 1244.3,667.1 1252.3,666.1 1276.3,667.7 1304.4,672.1 1324.4,675.7 1344.4,679.1 1350.4,681.1 1364.5,680.1 1408.0,680.1" fill="none" stroke="#ff0000" stroke-width="1" stroke-dasharray="3,2" shape-rendering="crispEdges"/><line x1="1298.4" y1="684.6" x2="1420.6" y2="680.8" stroke="#ff0000" stroke-width="4" shape-rendering="crispEdges"/><polygon points="1430.6,680.5 1418.8,685.9 1418.5,675.9" fill="#ff0000" shape-rendering="crispEdges"/></g><g font-family='"Liberation Sans", sans-serif'><text x="-1" y="614.3" font-size="10.2" fill="#000" textLength="109.95" lengthAdjust="spacingAndGlyphs">MACD(12,26,9) 4.52 14.85</text></g><g clip-path="url(#crsi)"><line x1="0" y1="786.5" x2="1651" y2="786.5" stroke="#b4b4b4" stroke-width="1" stroke-dasharray="3,3"/><line x1="0" y1="837.5" x2="1651" y2="837.5" stroke="#b4b4b4" stroke-width="1" stroke-dasharray="3,3"/><line x1="0" y1="898.5" x2="1651" y2="898.5" stroke="#b4b4b4" stroke-width="1" stroke-dasharray="3,3"/><polyline points="0.0,831.1 8.0,837.1 16.0,832.5 24.0,832.5 32.0,839.1 40.0,847.1 48.0,864.2 56.0,862.2 64.0,857.2 72.0,860.2 80.0,862.2 88.0,862.2 96.0,854.2 104.0,856.6 112.0,850.5 120.0,850.5 128.0,855.2 136.0,842.5 144.0,848.1 152.0,846.1 160.0,848.5 168.0,845.1 176.0,841.1 184.0,848.1 192.0,810.1 200.0,813.1 208.0,812.1 216.0,816.1 224.0,819.7 232.0,855.2 240.0,851.1 248.0,851.1 256.0,851.1 264.0,855.2 272.0,856.6 280.0,861.8 288.0,851.1 296.0,860.2 304.0,861.2 312.0,861.6 320.0,864.2 328.0,866.2 336.0,871.2 344.0,864.2 352.0,862.6 360.0,860.2 368.0,858.2 376.0,870.2 384.0,866.6 392.0,867.6 400.0,860.6 408.0,860.6 416.0,844.5 424.0,847.7 432.0,869.2 440.0,863.2 448.0,864.2 456.0,867.8 464.0,873.2 472.0,876.6 480.0,860.6 488.0,857.2 496.0,847.7 504.0,849.5 512.0,844.1 520.0,836.5 528.0,836.1 536.0,831.7 544.0,845.1 552.0,842.1 560.0,837.1 568.0,833.7 576.0,833.7 584.0,833.7 592.0,830.1 600.0,822.5 608.0,816.5 616.0,825.1 624.0,816.5 632.0,816.7 640.0,822.5 648.0,824.5 656.0,831.7 664.0,858.2 672.0,869.5 680.0,873.2 688.0,862.6 696.0,869.2 704.0,870.6 712.0,866.6 720.0,868.2 728.0,864.2 736.0,860.2 744.0,853.8 752.0,851.1 760.0,869.2 768.0,857.2 776.0,845.7 784.0,847.1 792.0,843.7 800.0,841.1 808.0,827.5 816.0,828.5 824.0,833.1 832.0,834.5 840.0,840.1 848.0,838.5 856.0,841.1 864.0,826.5 872.0,823.1 880.0,821.7 888.0,827.1 896.0,836.5 904.0,828.5 912.0,822.5 920.0,824.1 928.0,821.7 936.0,817.5 944.0,814.1 952.0,805.1 960.0,803.5 968.0,805.1 976.0,809.1 984.0,807.5 992.0,807.5 1000.0,795.0 1008.0,789.0 1016.0,788.1 1024.0,788.1 1032.0,784.3 1040.0,793.3 1048.0,794.6 1056.0,793.3 1064.0,798.0 1072.0,803.7 1080.0,816.7 1088.0,821.1 1096.0,815.4 1104.0,823.9 1112.0,816.1 1120.0,816.1 1128.0,818.0 1136.0,818.0 1144.0,851.7 1152.0,841.3 1160.0,845.2 1168.0,841.3 1176.0,836.9 1184.0,832.2 1192.0,836.1 1200.0,818.7 1208.0,817.2 1216.0,819.3 1224.0,823.2 1232.0,830.9 1240.0,840.0 1248.0,841.3 1256.0,840.0 1264.0,833.5 1272.0,825.7 1280.0,823.9 1288.0,833.5 1296.0,842.1 1304.0,842.6 1312.0,850.4 1320.0,849.1 1328.0,854.3 1336.0,838.7 1344.0,824.4 1352.0,829.1 1360.0,830.2 1368.0,832.7 1376.0,832.2 1384.0,828.3 1392.0,843.1 1400.0,841.3 1408.0,841.3" fill="none" stroke="#1e90ff" stroke-width="1" shape-rendering="crispEdges"/><line x1="1291.9" y1="837.9" x2="1427.1" y2="837.9" stroke="#ff0000" stroke-width="4" shape-rendering="crispEdges"/><polygon points="1437.1,837.9 1425.1,842.9 1425.1,832.9" fill="#ff0000" shape-rendering="crispEdges"/></g><g font-family='"Liberation Sans", sans-serif'><text x="-2" y="763.3" font-size="10.2" fill="#000" textLength="65.86" lengthAdjust="spacingAndGlyphs">RSI(14) 47.7559</text></g><g font-family='"Liberation Sans", sans-serif' font-size="10" fill="#000"><rect x="1652" y="35" width="2" height="1" shape-rendering="crispEdges"/><text x="1657" y="39" font-size="10.3" textLength="32.61" lengthAdjust="spacingAndGlyphs">34130.0</text><rect x="1652" y="69" width="2" height="1" shape-rendering="crispEdges"/><text x="1657" y="73" font-size="10.3" textLength="32.61" lengthAdjust="spacingAndGlyphs">33914.0</text><rect x="1652" y="101" width="2" height="1" shape-rendering="crispEdges"/><text x="1657" y="105" font-size="10.3" textLength="32.61" lengthAdjust="spacingAndGlyphs">33704.0</text><rect x="1652" y="135" width="2" height="1" shape-rendering="crispEdges"/><text x="1657" y="139" font-size="10.3" textLength="32.61" lengthAdjust="spacingAndGlyphs">33488.0</text><rect x="1652" y="167" width="2" height="1" shape-rendering="crispEdges"/><text x="1657" y="171" font-size="10.3" textLength="32.61" lengthAdjust="spacingAndGlyphs">33278.0</text><rect x="1652" y="200" width="2" height="1" shape-rendering="crispEdges"/><text x="1657" y="204" font-size="10.3" textLength="32.61" lengthAdjust="spacingAndGlyphs">33068.0</text><rect x="1652" y="233" width="2" height="1" shape-rendering="crispEdges"/><text x="1657" y="237" font-size="10.3" textLength="32.61" lengthAdjust="spacingAndGlyphs">32852.0</text><rect x="1652" y="266" width="2" height="1" shape-rendering="crispEdges"/><text x="1657" y="270" font-size="10.3" textLength="32.61" lengthAdjust="spacingAndGlyphs">32642.0</text><rect x="1652" y="300" width="2" height="1" shape-rendering="crispEdges"/><text x="1657" y="304" font-size="10.3" textLength="32.61" lengthAdjust="spacingAndGlyphs">32426.0</text><rect x="1652" y="332" width="2" height="1" shape-rendering="crispEdges"/><text x="1657" y="336" font-size="10.3" textLength="32.61" lengthAdjust="spacingAndGlyphs">32216.0</text><rect x="1652" y="365" width="2" height="1" shape-rendering="crispEdges"/><text x="1657" y="369" font-size="10.3" textLength="32.61" lengthAdjust="spacingAndGlyphs">32006.0</text><rect x="1652" y="398" width="2" height="1" shape-rendering="crispEdges"/><text x="1657" y="402" font-size="10.3" textLength="32.61" lengthAdjust="spacingAndGlyphs">31790.0</text><rect x="1652" y="431" width="2" height="1" shape-rendering="crispEdges"/><text x="1657" y="435" font-size="10.3" textLength="32.61" lengthAdjust="spacingAndGlyphs">31580.0</text><rect x="1652" y="465" width="2" height="1" shape-rendering="crispEdges"/><text x="1657" y="469" font-size="10.3" textLength="32.61" lengthAdjust="spacingAndGlyphs">31364.0</text><rect x="1652" y="497" width="2" height="1" shape-rendering="crispEdges"/><text x="1657" y="501" font-size="10.3" textLength="31.94" lengthAdjust="spacingAndGlyphs">31154.0</text><rect x="1652" y="531" width="2" height="1" shape-rendering="crispEdges"/><text x="1657" y="535" font-size="10.3" textLength="32.61" lengthAdjust="spacingAndGlyphs">30938.0</text><rect x="1652" y="563" width="2" height="1" shape-rendering="crispEdges"/><text x="1657" y="567" font-size="10.3" textLength="32.61" lengthAdjust="spacingAndGlyphs">30728.0</text><rect x="1652" y="596" width="2" height="1" shape-rendering="crispEdges"/><text x="1657" y="600" font-size="10.3" textLength="32.61" lengthAdjust="spacingAndGlyphs">30518.0</text><rect x="1653" y="141" width="41" height="11" fill="#ff0000" shape-rendering="crispEdges"/><text x="1656.5" y="151" font-size="10.3" fill="#fff" textLength="32.61" lengthAdjust="spacingAndGlyphs">33405.4</text><rect x="1653" y="174" width="41" height="11" fill="#ff0000" shape-rendering="crispEdges"/><text x="1656.5" y="184" font-size="10.3" fill="#fff" textLength="32.61" lengthAdjust="spacingAndGlyphs">33193.3</text><rect x="1653" y="205" width="41" height="11" fill="#32cd32" shape-rendering="crispEdges"/><text x="1656.5" y="215" font-size="10.3" fill="#fff" textLength="32.61" lengthAdjust="spacingAndGlyphs">32995.0</text><rect x="1653" y="218" width="41" height="11" fill="#000000" shape-rendering="crispEdges"/><text x="1656.5" y="228" font-size="10.3" fill="#fff" textLength="32.61" lengthAdjust="spacingAndGlyphs">32909.5</text><rect x="1653" y="250" width="41" height="11" fill="#0000ff" shape-rendering="crispEdges"/><text x="1656.5" y="260" font-size="10.3" fill="#fff" textLength="32.61" lengthAdjust="spacingAndGlyphs">32704.7</text><rect x="1653" y="279" width="41" height="11" fill="#0000ff" shape-rendering="crispEdges"/><text x="1656.5" y="289" font-size="10.3" fill="#fff" textLength="32.61" lengthAdjust="spacingAndGlyphs">32518.3</text><text x="1655" y="613" font-size="10.3" textLength="27.59" lengthAdjust="spacingAndGlyphs">417.06</text><text x="1655" y="686" font-size="10.3" textLength="17.56" lengthAdjust="spacingAndGlyphs">0.00</text><text x="1655" y="746" font-size="10.3" textLength="30.60" lengthAdjust="spacingAndGlyphs">-348.09</text><rect x="1652" y="604" width="2" height="1"/><rect x="1652" y="682" width="3" height="1"/><text x="1655" y="761" font-size="10.3" textLength="15.05" lengthAdjust="spacingAndGlyphs">100</text><rect x="1652" y="757" width="3" height="1" shape-rendering="crispEdges"/><text x="1655" y="790" font-size="10.3" textLength="10.04" lengthAdjust="spacingAndGlyphs">80</text><rect x="1652" y="786" width="3" height="1" shape-rendering="crispEdges"/><text x="1655" y="841" font-size="10.3" textLength="10.04" lengthAdjust="spacingAndGlyphs">50</text><rect x="1652" y="837" width="3" height="1" shape-rendering="crispEdges"/><text x="1655" y="902" font-size="10.3" textLength="10.04" lengthAdjust="spacingAndGlyphs">15</text><rect x="1652" y="898" width="3" height="1" shape-rendering="crispEdges"/><text x="1655" y="922" font-size="10.3" textLength="5.02" lengthAdjust="spacingAndGlyphs">0</text><rect x="1652" y="918" width="3" height="1" shape-rendering="crispEdges"/></g><g font-family='"Liberation Sans", sans-serif' font-size="10" fill="#000"><text x="41.5" y="937.6" font-size="10" text-anchor="end" textLength="51.34" lengthAdjust="spacingAndGlyphs">28 Apr 2022</text><rect x="56" y="925" width="1" height="3" shape-rendering="crispEdges"/><text x="56" y="937.6" font-size="10" textLength="52.39" lengthAdjust="spacingAndGlyphs">1 May 23:00</text><rect x="120" y="925" width="1" height="3" shape-rendering="crispEdges"/><text x="120" y="937.6" font-size="10" textLength="52.39" lengthAdjust="spacingAndGlyphs">3 May 04:00</text><rect x="184" y="925" width="1" height="3" shape-rendering="crispEdges"/><text x="184" y="937.6" font-size="10" textLength="52.39" lengthAdjust="spacingAndGlyphs">4 May 12:00</text><rect x="248" y="925" width="1" height="3" shape-rendering="crispEdges"/><text x="248" y="937.6" font-size="10" textLength="52.39" lengthAdjust="spacingAndGlyphs">5 May 20:00</text><rect x="312" y="925" width="1" height="3" shape-rendering="crispEdges"/><text x="312" y="937.6" font-size="10" textLength="52.39" lengthAdjust="spacingAndGlyphs">9 May 04:00</text><rect x="376" y="925" width="1" height="3" shape-rendering="crispEdges"/><text x="376" y="937.6" font-size="10" textLength="57.68" lengthAdjust="spacingAndGlyphs">10 May 12:00</text><rect x="440" y="925" width="1" height="3" shape-rendering="crispEdges"/><text x="440" y="937.6" font-size="10" textLength="56.98" lengthAdjust="spacingAndGlyphs">11 May 20:00</text><rect x="504" y="925" width="1" height="3" shape-rendering="crispEdges"/><text x="504" y="937.6" font-size="10" textLength="57.68" lengthAdjust="spacingAndGlyphs">13 May 04:00</text><rect x="568" y="925" width="1" height="3" shape-rendering="crispEdges"/><text x="568" y="937.6" font-size="10" textLength="57.68" lengthAdjust="spacingAndGlyphs">16 May 12:00</text><rect x="632" y="925" width="1" height="3" shape-rendering="crispEdges"/><text x="632" y="937.6" font-size="10" textLength="57.68" lengthAdjust="spacingAndGlyphs">17 May 20:00</text><rect x="696" y="925" width="1" height="3" shape-rendering="crispEdges"/><text x="696" y="937.6" font-size="10" textLength="57.68" lengthAdjust="spacingAndGlyphs">19 May 04:00</text><rect x="760" y="925" width="1" height="3" shape-rendering="crispEdges"/><text x="760" y="937.6" font-size="10" textLength="57.68" lengthAdjust="spacingAndGlyphs">20 May 12:00</text><rect x="824" y="925" width="1" height="3" shape-rendering="crispEdges"/><text x="824" y="937.6" font-size="10" textLength="57.68" lengthAdjust="spacingAndGlyphs">23 May 20:00</text><rect x="888" y="925" width="1" height="3" shape-rendering="crispEdges"/><text x="888" y="937.6" font-size="10" textLength="57.68" lengthAdjust="spacingAndGlyphs">25 May 04:00</text><rect x="952" y="925" width="1" height="3" shape-rendering="crispEdges"/><text x="952" y="937.6" font-size="10" textLength="57.68" lengthAdjust="spacingAndGlyphs">26 May 12:00</text><rect x="1016" y="925" width="1" height="3" shape-rendering="crispEdges"/><text x="1016" y="937.6" font-size="10" textLength="57.68" lengthAdjust="spacingAndGlyphs">29 May 23:00</text><rect x="1080" y="925" width="1" height="3" shape-rendering="crispEdges"/><text x="1080" y="937.6" font-size="10" textLength="57.68" lengthAdjust="spacingAndGlyphs">31 May 04:00</text><rect x="1144" y="925" width="1" height="3" shape-rendering="crispEdges"/><text x="1144" y="937.6" font-size="10" textLength="49.75" lengthAdjust="spacingAndGlyphs">1 Jun 12:00</text><rect x="1208" y="925" width="1" height="3" shape-rendering="crispEdges"/><text x="1208" y="937.6" font-size="10" textLength="49.75" lengthAdjust="spacingAndGlyphs">2 Jun 20:00</text><rect x="1272" y="925" width="1" height="3" shape-rendering="crispEdges"/><text x="1272" y="937.6" font-size="10" textLength="49.75" lengthAdjust="spacingAndGlyphs">6 Jun 04:00</text><rect x="1336" y="925" width="1" height="3" shape-rendering="crispEdges"/><text x="1336" y="937.6" font-size="10" textLength="49.75" lengthAdjust="spacingAndGlyphs">7 Jun 12:00</text><rect x="1400" y="925" width="1" height="3" shape-rendering="crispEdges"/><text x="1400" y="937.6" font-size="10" textLength="49.75" lengthAdjust="spacingAndGlyphs">8 Jun 20:00</text></g></svg>

<svg width="1697" height="22" style="position:absolute;left:0;top:0">
<rect x="0" y="0" width="1697" height="19" fill="#f0f0f0"/>
<rect x="0" y="19" width="1697" height="2" fill="#787878"/>
<rect x="0" y="21" width="1697" height="2" fill="#ffffff"/>
<path d="M0,9 L4,15" stroke="#c8a030" stroke-width="2"/><rect x="12" y="0" width="1" height="16" fill="#a0a0a0"/><rect x="13" y="0" width="1" height="16" fill="#fff"/><path d="M23,0 L31,0 L34,3 L34,12 L23,12 Z" fill="#fff" stroke="#888" stroke-width="1"/><rect x="28" y="5" width="9" height="3" fill="#20b020"/><rect x="31" y="2" width="3" height="9" fill="#20b020"/><rect x="26.5" y="8" width="10" height="3.5" fill="#18c018"/><rect x="30" y="5" width="3.5" height="11" fill="#18c018"/><g stroke="#1a1a1a" stroke-width="1.1" fill="none"><path d="M41,1.5 H48 M44.5,0 V1.5 M42,4 L43,2.5 M47,2.5 L46,4 M40.5,4.5 H48.5 M40.5,7 H48.5 M44.5,4.5 V11 M44,8 L41,11 M45,8 L48,10.5"/><path d="M50.5,1.5 L55,0.5 M50.5,1.5 V11 M50.5,5 H56 M53.5,5 V11"/><path d="M57.5,1 L59,2.5 M57,4.5 H59 V10.5 L60,9.5 M60.5,1.5 H65 M63,1.5 V10.5 L61.5,10"/><path d="M67,0 L68,1.5 M74,0 L73,1.5 M66.5,2.5 H75.5 V7.5 H66.5 Z M66.5,5 H75.5 M71,2.5 V11 M65,9 H77"/></g><path d="M96,0 L104,7.5 L98,14.5 L89,8.5 Z" fill="#e8c040" stroke="#a87010" stroke-width="1"/><path d="M90,9.5 L98,14.5 L104,8.5" stroke="#c08820" stroke-width="1.2" fill="none"/><path d="M94,3 L100,8" stroke="#f8e080" stroke-width="1.5"/><rect x="119.5" y="0" width="10" height="9" fill="#3a98f0" stroke="#1a60c0"/><rect x="124" y="3" width="5" height="1" fill="#fff"/><rect x="124" y="5" width="5" height="1" fill="#fff"/><g fill="#e4ecf6" stroke="#5a78a8" stroke-width="1"><path d="M118,14.5 Q116,10 120,10 Q121,7 125,8 Q127,6 130,9 Q133,9 133,12 Q133,14.5 131,14.5 Z"/></g><g fill="none" stroke-width="1.1"><circle cx="153" cy="6.5" r="7" stroke="#9ab0e0"/><circle cx="153" cy="6.5" r="4.5" stroke="#7090d0"/><circle cx="153" cy="6.5" r="2.2" stroke="#4a70c0"/></g><circle cx="153" cy="6.5" r="1.3" fill="#2050b0"/><path d="M153.5,7 V14.5" stroke="#30b030" stroke-width="1.5"/><path d="M154,14 Q160,12 160,6" stroke="#60b060" stroke-width="1.3" fill="none"/><path d="M172,6 L188,6 L184,14 L178,14 Z" fill="#f0d050" stroke="#c0a030" stroke-width="0.8"/><ellipse cx="180" cy="4" rx="7.5" ry="2.8" fill="#5ab0e0" stroke="#3a80b0" stroke-width="0.8"/><path d="M178,3 L180,-1 L182,3 Z" fill="#5ab0e0"/><circle cx="184.5" cy="11" r="3.8" fill="#e02020"/><rect x="183" y="9.5" width="3" height="3" fill="#fff"/><g stroke="#1a1a1a" stroke-width="1.1" fill="none"><path d="M198,0 L197,1 M194.5,1.5 H203 V10.5 H194.5 Z M194.5,4.5 H203 M194.5,7.5 H203"/><path d="M206,1.5 H210 M205.5,4.5 H210.5 M208,4.5 L206,10 L210,9 M211,3 H216 V10.5 L215,10 M213.5,0 V4 Q213,9 210.5,11"/><path d="M223,0 V1.5 M217.5,2.5 H228.5 M220,4 L218.5,6 M226,4 L227.5,6 M220,6 L227,11 M226,6 L218,11"/><path d="M231,0.5 H239 V6 H231 Z M231,3 H239 M229.5,7 L232,6 M232,7.5 H240 L239,11 M233,8 L231,11 M236,8 L234,11"/></g><rect x="252" y="1" width="3" height="1" fill="#b8b8b8"/><rect x="252" y="3" width="3" height="1" fill="#b8b8b8"/><rect x="252" y="5" width="3" height="1" fill="#b8b8b8"/><rect x="252" y="7" width="3" height="1" fill="#b8b8b8"/><rect x="252" y="9" width="3" height="1" fill="#b8b8b8"/><rect x="252" y="11" width="3" height="1" fill="#b8b8b8"/><rect x="252" y="13" width="3" height="1" fill="#b8b8b8"/><rect x="252" y="15" width="3" height="1" fill="#b8b8b8"/><path d="M266,1 V14 H278 M264,3 L266,1 L268,3 M276,12 L278,14 L276,16" stroke="#404040" stroke-width="1.2" fill="none"/><path d="M272,4 V11 M272,5 H274 M270,10 H272" stroke="#20a020" stroke-width="1.2" fill="none"/><rect x="286" y="0" width="1" height="16" fill="#a0a0a0"/><rect x="287" y="0" width="1" height="16" fill="#fff"/><rect x="287" y="0" width="24" height="17" fill="#f7f7f7"/><path d="M294,1 V14 H306 M292,3 L294,1 L296,3 M304,12 L306,14 L304,16" stroke="#404040" stroke-width="1.2" fill="none"/><rect x="298" y="2" width="4" height="7" fill="#30c030" stroke="#108010"/><path d="M300,0 V12" stroke="#108010"/><path d="M322,1 V14 H334 M320,3 L322,1 L324,3 M332,12 L334,14 L332,16" stroke="#404040" stroke-width="1.2" fill="none"/><path d="M322,9 Q327,2 333,7" stroke="#20a020" stroke-width="1.2" fill="none"/><rect x="343" y="0" width="1" height="16" fill="#a0a0a0"/><rect x="344" y="0" width="1" height="16" fill="#fff"/><path d="M361,9 L367,14" stroke="#c8a020" stroke-width="2.5"/><circle cx="358" cy="5.5" r="5" fill="#cfe4f8" stroke="#3a80d0" stroke-width="1.5"/><rect x="355" y="4.5" width="6" height="2" fill="#3a80d0"/><rect x="357" y="2.5" width="2" height="6" fill="#3a80d0"/><path d="M389,9 L395,14" stroke="#c8a020" stroke-width="2.5"/><circle cx="386" cy="5.5" r="5" fill="#cfe4f8" stroke="#3a80d0" stroke-width="1.5"/><rect x="383" y="4.5" width="6" height="2" fill="#3a80d0"/><rect x="408" y="0" width="7.5" height="6.5" fill="#50b030"/><rect x="416" y="0" width="7.5" height="6.5" fill="#3a70d0"/><rect x="408" y="7" width="7.5" height="7" fill="#3a70d0"/><rect x="416" y="7" width="7.5" height="7" fill="#50b030"/><g fill="#fff"><rect x="409.5" y="2.5" width="4.5" height="1"/><rect x="417.5" y="2.5" width="4.5" height="1"/><rect x="409.5" y="9.5" width="4.5" height="1"/><rect x="417.5" y="9.5" width="4.5" height="1"/><rect x="409.5" y="11.5" width="4.5" height="1"/><rect x="417.5" y="11.5" width="4.5" height="1"/></g><rect x="433" y="0" width="1" height="16" fill="#a0a0a0"/><rect x="434" y="0" width="1" height="16" fill="#fff"/><rect x="437" y="0" width="1" height="16" fill="#a0a0a0"/><rect x="438" y="0" width="1" height="16" fill="#fff"/><rect x="439" y="0" width="23" height="17" fill="#f7f7f7"/><rect x="467" y="0" width="23" height="17" fill="#f7f7f7"/><path d="M446,1 V14 H458 M444,3 L446,1 L448,3 M456,12 L458,14 L456,16" stroke="#404040" stroke-width="1.2" fill="none"/><path d="M452,4 L455,6.5 L452,9 Z" fill="#20b020"/><path d="M474,1 V14 H486 M472,3 L474,1 L476,3 M484,12 L486,14 L484,16" stroke="#404040" stroke-width="1.2" fill="none"/><path d="M480,2 V11" stroke="#3060a0" stroke-width="1.2"/><path d="M485,6.5 H482 M483,4.5 L481,6.5 L483,8.5" stroke="#e03020" stroke-width="1.2" fill="none"/><rect x="495" y="0" width="1" height="16" fill="#a0a0a0"/><rect x="496" y="0" width="1" height="16" fill="#fff"/><path d="M505,1 L512,1 L514,3 L514,11 L505,11 Z" fill="#fff" stroke="#888"/><rect x="509" y="8" width="12" height="4" fill="#18c018"/><rect x="513" y="4" width="4" height="12" fill="#18c018"/><polygon points="527,6 532,6 529.5,9" fill="#000"/><polygon points="566,6 571,6 568.5,9" fill="#000"/><polygon points="605,6 610,6 607.5,9" fill="#000"/><circle cx="551" cy="7" r="7.5" fill="#2a78d0"/><circle cx="551" cy="7" r="5.5" fill="#f4f8ff"/><path d="M551,3 V7 H554" stroke="#333" stroke-width="1" fill="none"/><rect x="582" y="0" width="16" height="13" fill="#fff" stroke="#3a70c0"/><rect x="582" y="0" width="16" height="2" fill="#3a70c0"/><path d="M584,6 L587,5 L590,6 L595,4.5" stroke="#c03020" fill="none"/><path d="M584,11 L587,10 L590,11 L595,9" stroke="#20a020" fill="none"/><rect x="616" y="0" width="1" height="16" fill="#a0a0a0"/><rect x="617" y="0" width="1" height="16" fill="#fff"/><rect x="620" y="1" width="3" height="1" fill="#b8b8b8"/><rect x="620" y="3" width="3" height="1" fill="#b8b8b8"/><rect x="620" y="5" width="3" height="1" fill="#b8b8b8"/><rect x="620" y="7" width="3" height="1" fill="#b8b8b8"/><rect x="620" y="9" width="3" height="1" fill="#b8b8b8"/><rect x="620" y="11" width="3" height="1" fill="#b8b8b8"/><rect x="620" y="13" width="3" height="1" fill="#b8b8b8"/><rect x="620" y="15" width="3" height="1" fill="#b8b8b8"/><rect x="626" y="0" width="1" height="16" fill="#a0a0a0"/><rect x="627" y="0" width="1" height="16" fill="#fff"/><rect x="627" y="0" width="24" height="17" fill="#f7f7f7"/><path d="M634,1 L634,13 L637,10 L640,15 L642,14 L639.5,9 L643,9 Z" fill="#404040"/><path d="M658,7 H674 M666,0 V14" stroke="#404040" stroke-width="1"/><rect x="683" y="0" width="1" height="16" fill="#a0a0a0"/><rect x="684" y="0" width="1" height="16" fill="#fff"/><path d="M700.5,1.5 V14" stroke="#404040" stroke-width="1.2"/><path d="M722,7.5 H735" stroke="#404040" stroke-width="1.2"/><path d="M751,14 L763,2" stroke="#404040" stroke-width="1.2"/><path d="M777,11 L789,1 M779,13 L791,3 M780,6 L784,10 M783,4 L787,8" stroke="#404040" stroke-width="1.1" fill="none"/><text x="787" y="16" font-family='"Liberation Sans", sans-serif' font-size="7" font-weight="bold" fill="#404040">E</text><path d="M806,1.5 H820 M806,4.5 H820 M806,7.5 H820 M806,11.5 H816" stroke="#404040" stroke-width="1" stroke-dasharray="1,1"/><text x="816" y="16" font-family='"Liberation Sans", sans-serif' font-size="7" font-weight="bold" fill="#404040">F</text><text x="836" y="12" font-family='"Liberation Sans", sans-serif' font-size="12" font-weight="bold" fill="#505050">A</text><rect x="863.5" y="1.5" width="11" height="12" fill="none" stroke="#505050" stroke-dasharray="1,1"/><text x="865" y="12" font-family='"Liberation Sans", sans-serif' font-size="11" font-weight="bold" fill="#505050">T</text><path d="M891,3 L893,1 L895,3 L893,5 Z M899,10 L902,8 L904,10 L902,12 Z" fill="#404040"/><path d="M893,6 L896,10 L900,5" stroke="#404040" stroke-width="1.2" fill="none"/><polygon points="911,6 916,6 913.5,9" fill="#000"/><rect x="922" y="0" width="1" height="16" fill="#a0a0a0"/><rect x="923" y="0" width="1" height="16" fill="#fff"/><rect x="926" y="1" width="3" height="1" fill="#b8b8b8"/><rect x="926" y="3" width="3" height="1" fill="#b8b8b8"/><rect x="926" y="5" width="3" height="1" fill="#b8b8b8"/><rect x="926" y="7" width="3" height="1" fill="#b8b8b8"/><rect x="926" y="9" width="3" height="1" fill="#b8b8b8"/><rect x="926" y="11" width="3" height="1" fill="#b8b8b8"/><rect x="926" y="13" width="3" height="1" fill="#b8b8b8"/><rect x="926" y="15" width="3" height="1" fill="#b8b8b8"/><g font-family='"Liberation Sans", sans-serif'><text x="937" y="11" font-size="9.6" fill="#3a3a3a" textLength="12.53" lengthAdjust="spacingAndGlyphs">M1</text></g><g font-family='"Liberation Sans", sans-serif'><text x="965" y="11" font-size="9.6" fill="#3a3a3a" textLength="12.53" lengthAdjust="spacingAndGlyphs">M5</text></g><g font-family='"Liberation Sans", sans-serif'><text x="992" y="11" font-size="9.6" fill="#3a3a3a" textLength="17.55" lengthAdjust="spacingAndGlyphs">M15</text></g><g font-family='"Liberation Sans", sans-serif'><text x="1020" y="11" font-size="9.6" fill="#3a3a3a" textLength="17.55" lengthAdjust="spacingAndGlyphs">M30</text></g><g font-family='"Liberation Sans", sans-serif'><text x="1050.5" y="11" font-size="9.6" fill="#3a3a3a" textLength="11.54" lengthAdjust="spacingAndGlyphs">H1</text></g><g font-family='"Liberation Sans", sans-serif'><text x="1107" y="11" font-size="9.6" fill="#3a3a3a" textLength="11.54" lengthAdjust="spacingAndGlyphs">D1</text></g><g font-family='"Liberation Sans", sans-serif'><text x="1134" y="11" font-size="9.6" fill="#3a3a3a" textLength="13.54" lengthAdjust="spacingAndGlyphs">W1</text></g><g font-family='"Liberation Sans", sans-serif'><text x="1161" y="11" font-size="9.6" fill="#3a3a3a" textLength="14.03" lengthAdjust="spacingAndGlyphs">MN</text></g><rect x="1072" y="0" width="1" height="16" fill="#a0a0a0"/><rect x="1073" y="0" width="1" height="16" fill="#fff"/><rect x="1073" y="0" width="24" height="17" fill="#f7f7f7"/><g font-family='"Liberation Sans", sans-serif'><text x="1077" y="11" font-size="9.6" fill="#3a3a3a" textLength="11.54" lengthAdjust="spacingAndGlyphs">H4</text></g><rect x="1183" y="0" width="1" height="16" fill="#a0a0a0"/><rect x="1184" y="0" width="1" height="16" fill="#fff"/><circle cx="1654" cy="4.5" r="3.8" fill="none" stroke="#3a70d0" stroke-width="1.6"/><path d="M1651,7.5 L1646,12" stroke="#3a70d0" stroke-width="2.2"/><path d="M1673,13.5 L1672.5,16 L1676,13.8 Z" fill="#c8c8d0"/><ellipse cx="1677" cy="9" rx="7" ry="4.8" fill="#e4e4ea" stroke="#b4b4bc"/><circle cx="1684.6" cy="4.5" r="8.2" fill="#e03a20"/><text x="1682" y="9" font-family="Liberation Serif, serif" font-size="10" fill="#fff">1</text></svg>

<svg width="216" height="102" style="position:absolute;left:0;top:0">
<defs>
<linearGradient id="gtab" x1="0" y1="0" x2="0" y2="1"><stop offset="0" stop-color="#ff5c5c"/><stop offset="1" stop-color="#de2c2c"/></linearGradient>
<linearGradient id="gpr" x1="0" y1="0" x2="0" y2="1"><stop offset="0" stop-color="#de2c2c"/><stop offset="1" stop-color="#b00606"/></linearGradient>
<linearGradient id="gsp" x1="0" y1="0" x2="0" y2="1"><stop offset="0" stop-color="#f2f2f2"/><stop offset="0.38" stop-color="#e8e8e8"/><stop offset="0.4" stop-color="#d8d8d8"/><stop offset="1" stop-color="#d0d0d0"/></linearGradient>
</defs>
<g shape-rendering="crispEdges">
<rect x="0" y="43" width="214" height="57" fill="#fff"/>
<rect x="0" y="43" width="47" height="25" fill="#b00000"/>
<rect x="0" y="44" width="46" height="23" fill="url(#gtab)"/>
<rect x="0" y="66" width="43" height="1" fill="#7a0000"/>
<rect x="0" y="67" width="43" height="1" fill="#ff8080"/>
<rect x="162" y="43" width="52" height="25" fill="#b00000"/>
<rect x="163" y="44" width="50" height="23" fill="url(#gtab)"/>
<rect x="166" y="66" width="44" height="1" fill="#7a0000"/>
<rect x="166" y="67" width="44" height="1" fill="#ff8080"/>
<rect x="0" y="67" width="104" height="33" fill="#b00000"/>
<rect x="0" y="68" width="103" height="31" fill="url(#gpr)"/>
<rect x="106" y="67" width="108" height="33" fill="#b00000"/>
<rect x="107" y="68" width="106" height="31" fill="url(#gpr)"/>
<rect x="49" y="43" width="111" height="22" fill="#a8acb4"/>
<rect x="50" y="44" width="109" height="20" fill="#fff"/>
<rect x="51" y="45" width="18" height="18" fill="url(#gsp)"/>
<rect x="70" y="44" width="1" height="20" fill="#a8acb4"/>
<rect x="138" y="44" width="1" height="20" fill="#a8acb4"/>
<rect x="140" y="45" width="18" height="18" fill="url(#gsp)"/>
</g>
<polygon points="57,52 62,52 59.5,55" fill="#4a5ab8"/>
<polygon points="146,55 151,55 148.5,52" fill="#4a5ab8"/>
<text x="7.5" y="59.5" font-family="'Liberation Sans', sans-serif" font-size="12.6" fill="#fff" textLength="25.5" lengthAdjust="spacingAndGlyphs">SELL</text>
<text x="175.7" y="59.2" font-family="'Liberation Sans', sans-serif" font-size="12.6" fill="#fff" textLength="23.3" lengthAdjust="spacingAndGlyphs">BUY</text>
<text x="134.7" y="58.3" font-family="'Liberation Sans', sans-serif" font-size="12" fill="#000" text-anchor="end">1.00</text>
<text x="11.5" y="94.8" font-family="'Liberation Sans', sans-serif" font-size="12" font-weight="bold" fill="#fff" textLength="34.3" lengthAdjust="spacingAndGlyphs">32908</text>
<circle cx="52.3" cy="92.3" r="2.4" fill="#fff"/>
<text x="55.5" y="94.8" font-family="'Liberation Sans', sans-serif" font-size="32.5" fill="#fff">0</text>
<text x="121.6" y="94.8" font-family="'Liberation Sans', sans-serif" font-size="12" font-weight="bold" fill="#fff" textLength="34.3" lengthAdjust="spacingAndGlyphs">32918</text>
<circle cx="163.5" cy="92.3" r="2.4" fill="#fff"/>
<text x="166.5" y="94.8" font-family="'Liberation Sans', sans-serif" font-size="32.5" fill="#fff">0</text>
</svg>

</body></html>
